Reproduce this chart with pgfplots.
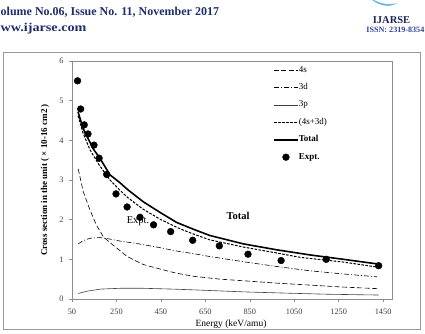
\documentclass[border=0pt]{standalone}
\usepackage{pgfplots}
\pgfplotsset{compat=1.18}
\usepackage{fontspec}
\setmainfont{Liberation Serif}
\definecolor{navy}{HTML}{1F2D6B}
\definecolor{issnblue}{HTML}{2E3FA0}
\definecolor{logoblue}{HTML}{6FB7E8}

\pgfplotsset{
  linelegend/.style={legend image code/.code={\draw[##1] (0pt,0pt) -- (24pt,0pt);}},
  dotlegend/.style={legend image code/.code={\draw[mark repeat=2,mark phase=2,##1] plot coordinates {(0pt,0pt) (12pt,0pt) (24pt,0pt)};}},
}

\pgfplotstableread{
x y
77 4.72
100 4.30
146 3.78
172 3.58
221 3.13
266 2.93
300 2.76
371 2.45
450 2.17
521 1.93
600 1.75
671 1.60
821 1.39
971 1.24
1122 1.11
1272 1.00
1430 0.88
}\total

\pgfplotstableread{
x y
77 4.62
100 4.18
131 3.76
172 3.38
221 3.00
266 2.74
300 2.56
371 2.26
450 2.00
536 1.77
600 1.63
671 1.49
821 1.31
971 1.16
1077 1.05
1272 0.93
1430 0.80
}\sfd

\pgfplotstableread{
x y
78 3.28
100 2.72
131 2.24
160 1.86
191 1.57
221 1.42
266 1.22
296 1.08
341 0.95
371 0.87
416 0.80
491 0.69
521 0.65
600 0.57
717 0.50
821 0.46
971 0.40
1122 0.35
1272 0.30
1430 0.26
}\fours

\pgfplotstableread{
x y
78 1.39
100 1.47
130 1.53
176 1.55
221 1.51
266 1.46
341 1.40
371 1.37
450 1.29
521 1.21
600 1.14
671 1.07
821 0.94
971 0.82
1122 0.71
1272 0.63
1422 0.56
}\threed

\pgfplotstableread{
x y
78 0.14
120 0.20
180 0.25
266 0.27
371 0.27
500 0.25
600 0.23
821 0.18
1000 0.15
1200 0.12
1430 0.10
}\threep

\pgfplotstableread{
x y
75 5.50
89 4.79
105 4.39
122 4.16
149 3.88
172 3.55
206 3.14
248 2.65
298 2.32
356 2.06
417 1.87
494 1.70
593 1.48
713 1.34
842 1.13
991 0.97
1194 1.00
1430 0.84
}\expt

\begin{document}
\begin{tikzpicture}
\useasboundingbox (0pt,0pt) rectangle (425pt,334pt);
% header
\node[anchor=base west, inner sep=0pt, text=navy, font=\fontsize{12}{14}\selectfont\bfseries] at (0.5pt,318pt) {olume No.06, Issue No. 11, November 2017};
\node[anchor=base west, inner sep=0pt, xscale=1.18, text=navy, font=\fontsize{12}{14}\selectfont\bfseries] at (0.5pt,302pt) {ww.ijarse.com};
\node[anchor=base, inner sep=0pt, text=navy!80!black, font=\fontsize{10.5}{12}\selectfont\bfseries] at (391.5pt,310pt) {IJARSE};
\node[anchor=base east, inner sep=0pt, text=issnblue, font=\fontsize{8.1}{10}\selectfont\bfseries] at (424.5pt,301pt) {ISSN: 2319-8354};
\fill[logoblue] (372pt,334pt) .. controls (380pt,328pt) and (390pt,326pt) .. (397pt,331pt) .. controls (390pt,329pt) and (381pt,330pt) .. (374pt,334pt) -- cycle;
% outer frame
\draw[black!40, line width=0.9pt] (3pt,5pt) rectangle (420.5pt,282pt);
\begin{axis}[
  at={(72pt,35pt)}, anchor=south west,
  scale only axis, width=320pt, height=238pt,
  xmin=50, xmax=1490, ymin=0, ymax=6,
  xtick={50,250,450,650,850,1050,1250,1450},
  ytick={0,1,2,3,4,5,6},
  tick align=outside, xtick pos=bottom, ytick pos=left,
  major tick length=3pt,
  axis line style={draw=black!45},
  every tick/.style={black!45, line width=0.5pt},
  tick label style={font=\fontsize{8.3}{9.6}\selectfont, text=black!75},
  /pgf/number format/assume math mode=true,
  /pgf/number format/1000 sep={},
  xticklabel style={yshift=-3pt},
  yticklabel style={xshift=-2pt},
  xlabel={Energy (keV/amu)},
  ylabel={\textbf{Cross section in the unit ( × 10-16 cm2 )}},
  every axis x label/.style={at={(rel axis cs:0.497,-0.105)}, anchor=center, font=\fontsize{9.5}{11}\selectfont},
  every axis y label/.style={at={(rel axis cs:-0.0844,0.5)}, anchor=center, rotate=90, font=\fontsize{9}{11}\selectfont},
  legend cell align=left,
  legend style={at={(rel axis cs:0.628,0.980)}, anchor=north west, draw=none, fill=none,
    inner sep=0pt, row sep=9.0pt, font=\fontsize{9}{10}\selectfont,
    nodes={inner sep=0pt, text height=6.2pt, text depth=2.2pt},
    /tikz/every even column/.append style={column sep=4pt}},
  linelegend,
]
\addplot[black, line width=0.6pt, dash pattern=on 5pt off 2.5pt] table[x=x,y=y] {\fours};
\addlegendentry{4s}
\addplot[black, line width=0.6pt, dash pattern=on 5pt off 2pt on 1pt off 2pt] table[x=x,y=y] {\threed};
\addlegendentry{3d}
\addplot[black!75, line width=0.6pt] table[x=x,y=y] {\threep};
\addlegendentry{3p}
\addplot[black, line width=1pt, dash pattern=on 2.6pt off 1.4pt] table[x=x,y=y] {\sfd};
\addlegendentry{(4s+3d)}
\addplot[black, line width=1.6pt] table[x=x,y=y] {\total};
\addlegendentry{\textbf{Total}}
\addplot[only marks, mark=*, mark size=3.4pt, black, dotlegend] table[x=x,y=y] {\expt};
\addlegendentry{\textbf{Expt.}}
\node[font=\fontsize{10.5}{12}\selectfont] at (axis cs:347,1.97) {Expt.};
\node[font=\fontsize{10.5}{12}\selectfont\bfseries] at (axis cs:797,2.09) {Total};
\end{axis}
\end{tikzpicture}
\end{document}
